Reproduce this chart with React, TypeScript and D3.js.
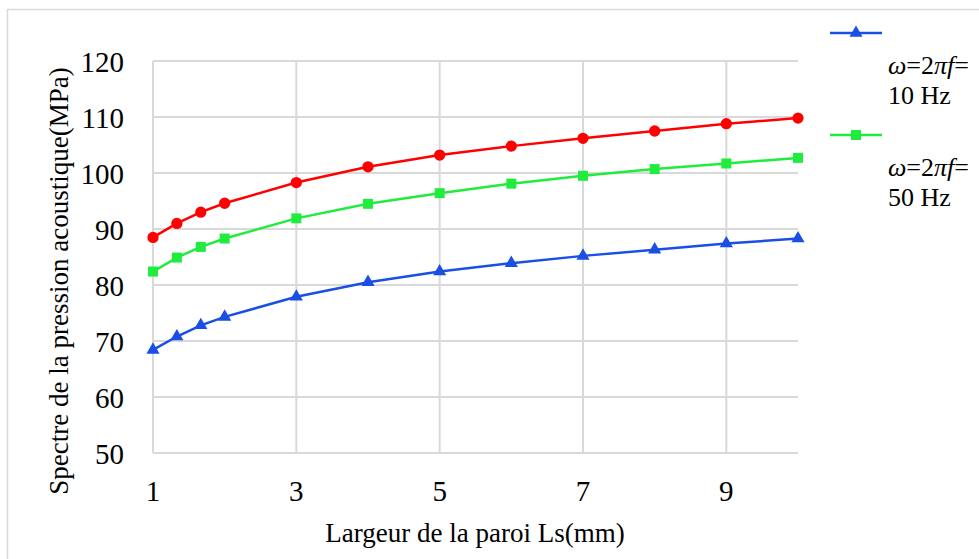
import React, { useEffect, useRef } from 'react';
import * as d3 from 'd3';

const xValues = [1, 1.333, 1.667, 2, 3, 4, 5, 6, 7, 8, 9, 10];
const redValues = [88.5, 91.0, 93.0, 94.6, 98.3, 101.1, 103.2, 104.8, 106.2, 107.5, 108.8, 109.8];
const greenValues = [82.4, 84.9, 86.8, 88.3, 91.9, 94.5, 96.4, 98.1, 99.5, 100.7, 101.7, 102.7];
const blueValues = [68.4, 70.8, 72.8, 74.3, 77.9, 80.5, 82.4, 83.9, 85.2, 86.3, 87.4, 88.3];
const xTicks = [1, 3, 5, 7, 9];
const yTicks = [50, 60, 70, 80, 90, 100, 110, 120];
const legendLabels = ['10 Hz', '50 Hz'];

const RED = '#ff0000';
const GREEN = '#1fec3c';
const BLUE = '#1a4fe6';

function App() {
  const ref = useRef<SVGSVGElement>(null);

  useEffect(() => {
    const svg = d3.select(ref.current);
    svg.selectAll('*').remove();
    const font = '"Liberation Serif", "Times New Roman", serif';

    // chart border
    svg.append('rect')
      .attr('x', 7.5).attr('y', 9.5)
      .attr('width', 1000).attr('height', 600)
      .attr('fill', 'white').attr('stroke', '#d9d9d9').attr('stroke-width', 1.5);

    const x = d3.scaleLinear().domain([1, 10]).range([153, 798]);
    const y = d3.scaleLinear().domain([50, 120]).range([453, 61]);

    const grid = svg.append('g');
    yTicks.forEach(t => {
      grid.append('line')
        .attr('x1', x(1)).attr('x2', x(10))
        .attr('y1', y(t)).attr('y2', y(t))
        .attr('stroke', '#d9d9d9').attr('stroke-width', 2);
    });
    xTicks.forEach(t => {
      grid.append('line')
        .attr('x1', x(t)).attr('x2', x(t))
        .attr('y1', y(120)).attr('y2', y(50))
        .attr('stroke', '#d9d9d9').attr('stroke-width', 2);
    });

    // tick labels
    svg.append('g').selectAll('text').data(yTicks).enter().append('text')
      .attr('x', 124).attr('y', d => y(d) + 11)
      .attr('text-anchor', 'end')
      .style('font-family', font).style('font-size', '29px')
      .text(d => d);
    svg.append('g').selectAll('text').data(xTicks).enter().append('text')
      .attr('x', d => x(d)).attr('y', 501)
      .attr('text-anchor', 'middle')
      .style('font-family', font).style('font-size', '29px')
      .text(d => d);

    svg.append('text')
      .attr('x', 475).attr('y', 542)
      .attr('text-anchor', 'middle')
      .style('font-family', font).style('font-size', '27px')
      .text('Largeur de la paroi Ls(mm)');
    svg.append('text')
      .attr('transform', 'translate(68,281) rotate(-90)')
      .attr('text-anchor', 'middle')
      .style('font-family', font).style('font-size', '27px')
      .text('Spectre de la pression acoustique(MPa)');

    const line = d3.line<number>()
      .x((_, i) => x(xValues[i]))
      .y(d => y(d));

    const series = [
      { values: redValues, color: RED, symbol: d3.symbolCircle, size: 100 },
      { values: greenValues, color: GREEN, symbol: d3.symbolSquare, size: 100 },
      { values: blueValues, color: BLUE, symbol: d3.symbolTriangle, size: 75 },
    ];

    series.forEach(s => {
      svg.append('path')
        .attr('d', line(s.values))
        .attr('fill', 'none')
        .attr('stroke', s.color)
        .attr('stroke-width', 2.5);
      svg.append('g').selectAll('path').data(s.values).enter().append('path')
        .attr('d', d3.symbol().type(s.symbol).size(s.size)())
        .attr('transform', (d, i) => `translate(${x(xValues[i])},${y(d)})`)
        .attr('fill', s.color);
    });

    // legend
    const legend = [
      { color: BLUE, symbol: d3.symbolTriangle, size: 75, y: 33, label: legendLabels[0] },
      { color: GREEN, symbol: d3.symbolSquare, size: 100, y: 135, label: legendLabels[1] },
    ];
    legend.forEach(l => {
      const g = svg.append('g');
      g.append('line')
        .attr('x1', 830).attr('x2', 882)
        .attr('y1', l.y).attr('y2', l.y)
        .attr('stroke', l.color).attr('stroke-width', 2.5);
      g.append('path')
        .attr('d', d3.symbol().type(l.symbol).size(l.size)())
        .attr('transform', `translate(856,${l.y})`)
        .attr('fill', l.color);
      const t = g.append('text')
        .attr('x', 888).attr('y', l.y + 41)
        .style('font-family', font).style('font-size', '26px');
      t.append('tspan').style('font-style', 'italic').text('ω');
      t.append('tspan').text('=2');
      t.append('tspan').style('font-style', 'italic').text('πf');
      t.append('tspan').text('=');
      g.append('text')
        .attr('x', 888).attr('y', l.y + 71)
        .style('font-family', font).style('font-size', '26px')
        .text(l.label);
    });
  }, []);

  return (
    <svg ref={ref} width={979} height={559}
      style={{ position: 'absolute', left: 0, top: 0 }} />
  );
}

export default App;
